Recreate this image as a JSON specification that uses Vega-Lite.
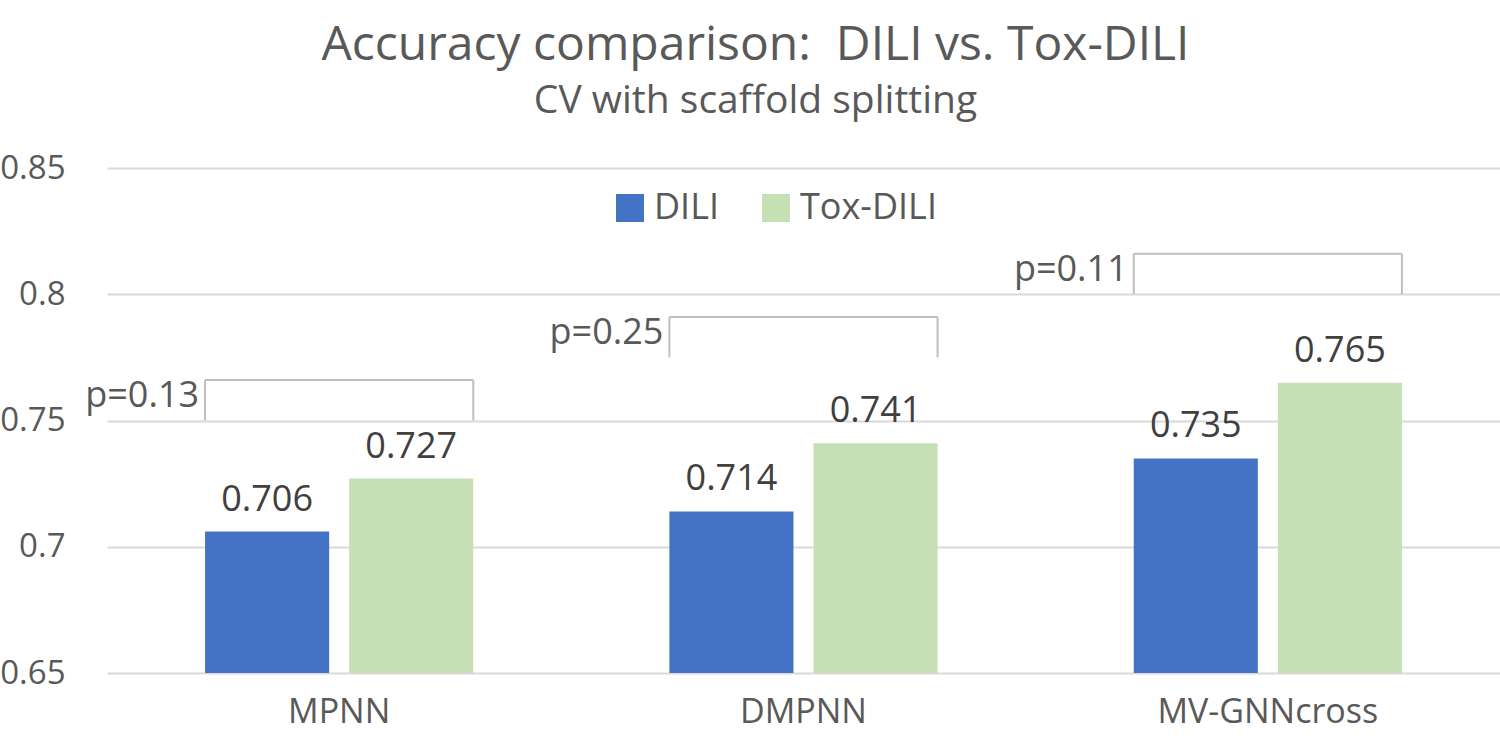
{
  "$schema": "https://vega.github.io/schema/vega-lite/v6.json",
  "autosize": "none",
  "width": 1393,
  "height": 505,
  "padding": {"left": 107, "top": 168, "right": 0, "bottom": 68},
  "background": "white",
  "title": {
    "text": "Accuracy comparison:\u00a0 DILI vs. Tox-DILI",
    "subtitle": "CV with scaffold splitting",
    "anchor": "middle",
    "dx": -48,
    "offset": 31,
    "font": "Open Sans",
    "fontSize": 48,
    "fontWeight": "normal",
    "color": "#595959",
    "subtitleFont": "Open Sans",
    "subtitleFontSize": 39,
    "subtitleColor": "#595959",
    "subtitlePadding": 12
  },
  "config": {
    "view": {"stroke": null},
    "font": "Open Sans",
    "axis": {"labelFont": "Open Sans", "labelColor": "#595959", "domain": false, "ticks": false, "title": null}
  },
  "datasets": {
    "bars": [
      {"model": "MPNN", "series": "DILI", "value": 0.706},
      {"model": "MPNN", "series": "Tox-DILI", "value": 0.727},
      {"model": "DMPNN", "series": "DILI", "value": 0.714},
      {"model": "DMPNN", "series": "Tox-DILI", "value": 0.741},
      {"model": "MV-GNNcross", "series": "DILI", "value": 0.735},
      {"model": "MV-GNNcross", "series": "Tox-DILI", "value": 0.765}
    ],
    "brackets": [
      {"model": "MPNN", "top": 0.766, "bottom": 0.75, "label": "p=0.13"},
      {"model": "DMPNN", "top": 0.791, "bottom": 0.775, "label": "p=0.25"},
      {"model": "MV-GNNcross", "top": 0.816, "bottom": 0.8, "label": "p=0.11"}
    ]
  },
  "encoding": {
    "x": {
      "field": "model", "type": "nominal", "sort": ["MPNN", "DMPNN", "MV-GNNcross"],
      "scale": {"paddingInner": 0.4224, "paddingOuter": 0.2112},
      "axis": {"labelAngle": 0, "labelFontSize": 34, "labelPadding": 22, "labelLimit": 0, "grid": false}
    }
  },
  "layer": [
    {
      "data": {"name": "bars"},
      "mark": {"type": "bar"},
      "encoding": {
        "xOffset": {"field": "series", "type": "nominal", "sort": ["DILI", "Tox-DILI"], "scale": {"paddingInner": 0.139, "paddingOuter": 0}},
        "y": {
          "field": "value", "type": "quantitative",
          "scale": {"domain": [0.65, 0.85], "nice": false, "zero": false},
          "axis": {"values": [0.65, 0.7, 0.75, 0.8, 0.85], "labelFontSize": 33, "labelPadding": 42, "gridColor": "#d9d9d9", "gridWidth": 2, "format": "~g"}
        },
        "y2": {"datum": 0.65},
        "color": {
          "field": "series", "type": "nominal", "sort": ["DILI", "Tox-DILI"],
          "scale": {"range": ["#4472C4", "#C5E0B4"]},
          "legend": {
            "title": null, "orient": "none", "direction": "horizontal",
            "legendX": 505, "legendY": 22,
            "symbolType": "square", "symbolSize": 784, "symbolStrokeWidth": 0,
            "labelFontSize": 36, "labelColor": "#595959", "labelFont": "Open Sans",
            "labelOffset": 6, "columnPadding": 38
          }
        }
      }
    },
    {
      "data": {"name": "bars"},
      "mark": {"type": "text", "baseline": "bottom", "dy": -13, "fontSize": 36, "color": "#404040"},
      "encoding": {
        "xOffset": {"field": "series", "type": "nominal", "sort": ["DILI", "Tox-DILI"]},
        "y": {"field": "value", "type": "quantitative"},
        "text": {"field": "value", "type": "quantitative", "format": ".3f"}
      }
    },
    {
      "data": {"name": "brackets"},
      "mark": {"type": "rule", "color": "#bfbfbf", "strokeWidth": 2},
      "encoding": {
        "x": {"field": "model", "type": "nominal", "sort": ["MPNN", "DMPNN", "MV-GNNcross"], "bandPosition": 0},
        "y": {"field": "top", "type": "quantitative"},
        "y2": {"field": "bottom"}
      }
    },
    {
      "data": {"name": "brackets"},
      "mark": {"type": "rule", "color": "#bfbfbf", "strokeWidth": 2},
      "encoding": {
        "x": {"field": "model", "type": "nominal", "sort": ["MPNN", "DMPNN", "MV-GNNcross"], "bandPosition": 1},
        "y": {"field": "top", "type": "quantitative"},
        "y2": {"field": "bottom"}
      }
    },
    {
      "data": {"name": "brackets"},
      "mark": {"type": "bar", "fill": null, "fillOpacity": 0, "stroke": "#bfbfbf", "strokeWidth": 2},
      "encoding": {
        "y": {"field": "top", "type": "quantitative"},
        "y2": {"field": "top"}
      }
    },
    {
      "data": {"name": "brackets"},
      "mark": {"type": "text", "align": "right", "baseline": "top", "dx": -6, "dy": -1, "fontSize": 36, "color": "#595959"},
      "encoding": {
        "x": {"field": "model", "type": "nominal", "sort": ["MPNN", "DMPNN", "MV-GNNcross"], "bandPosition": 0},
        "y": {"field": "top", "type": "quantitative"},
        "text": {"field": "label"}
      }
    }
  ]
}
